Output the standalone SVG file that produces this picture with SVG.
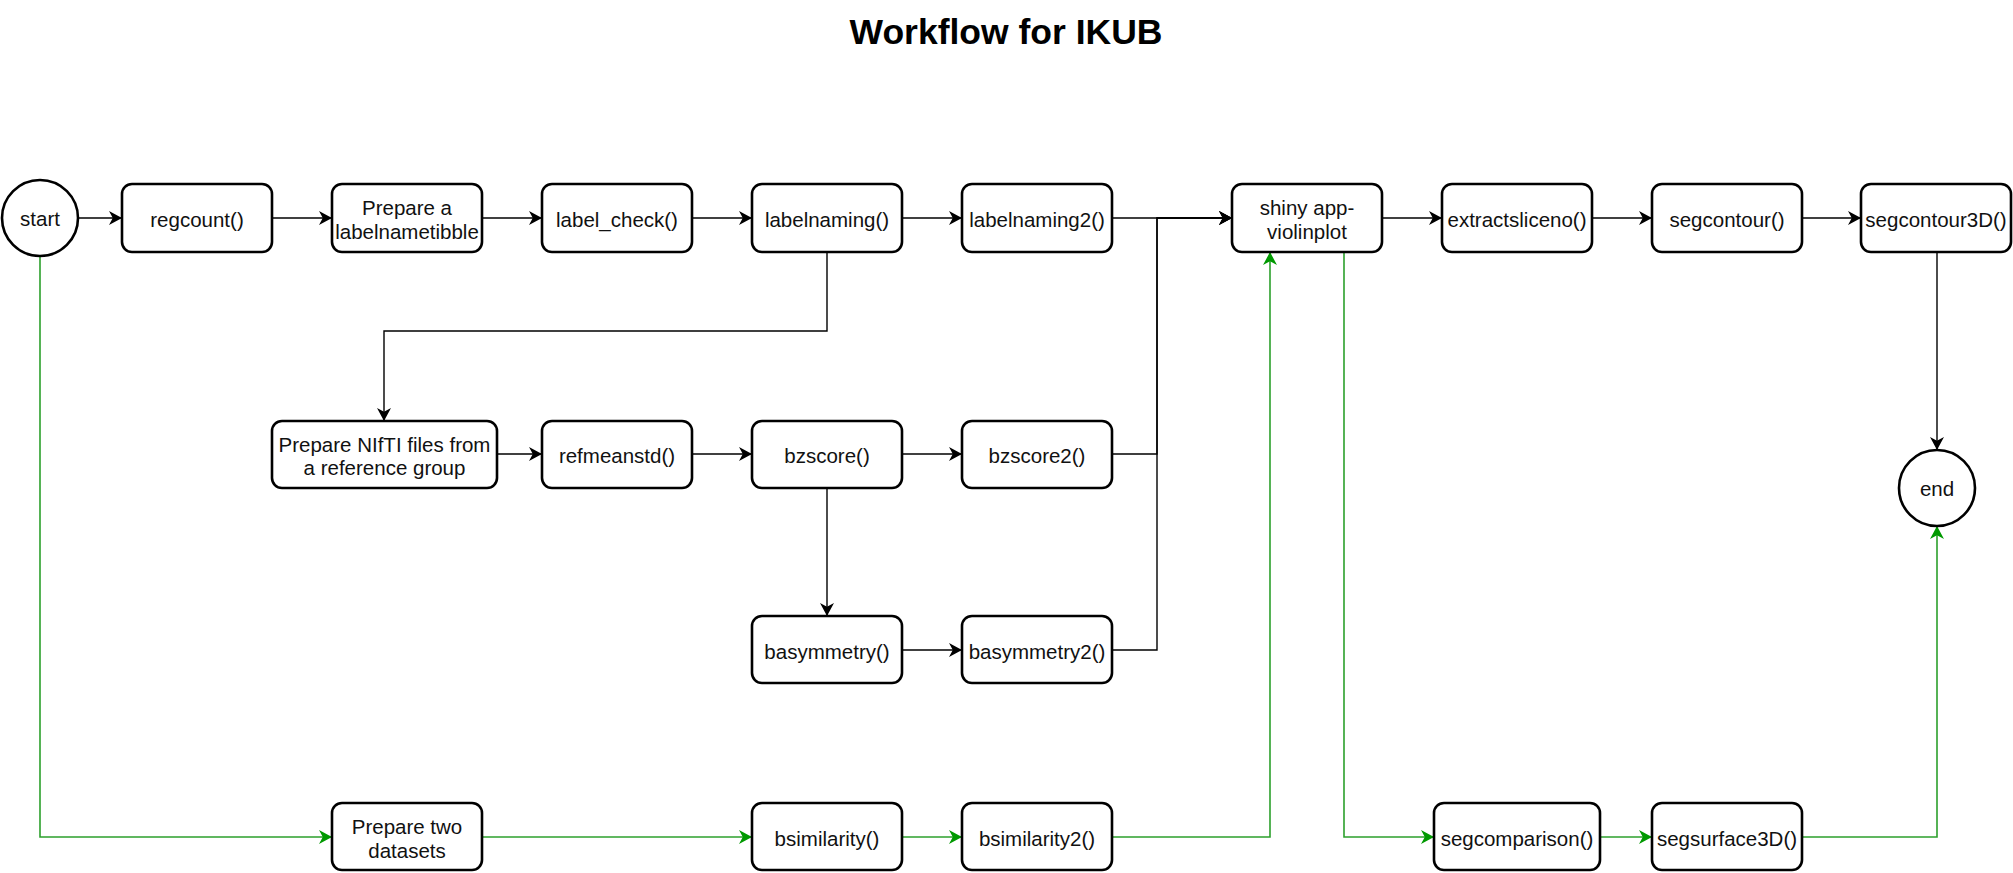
<svg xmlns="http://www.w3.org/2000/svg" width="2013" height="873" viewBox="0 0 2013 873">
<style>
  .box { fill: #ffffff; stroke: #000000; stroke-width: 2.6; }
  .lbl { font-family: "Liberation Sans", Arial, sans-serif; font-size: 20.5px; fill: #111111; text-anchor: middle; }
  .title { font-family: "Liberation Sans", Arial, sans-serif; font-size: 35.5px; font-weight: bold; fill: #000000; text-anchor: middle; }
  .edge { fill: none; stroke: #000000; stroke-width: 1.4; }
  .gedge { fill: none; stroke: #2ca02c; stroke-width: 1.6; }
</style>
<defs>
  <marker id="arr" markerUnits="userSpaceOnUse" markerWidth="15" markerHeight="15" refX="13" refY="7" orient="auto">
    <path d="M0,0 L13,7 L0,14 L3.8,7 Z" fill="#000000"/>
  </marker>
  <marker id="garr" markerUnits="userSpaceOnUse" markerWidth="15" markerHeight="15" refX="13" refY="7" orient="auto">
    <path d="M0,0 L13,7 L0,14 L3.8,7 Z" fill="#009900"/>
  </marker>
</defs>
<rect width="2013" height="873" fill="#ffffff"/>
<text class="title" x="1006" y="44">Workflow for IKUB</text>

<g id="connectors">
  <path class="edge" marker-end="url(#arr)" d="M78,218 H122"/>
  <path class="edge" marker-end="url(#arr)" d="M272,218 H332"/>
  <path class="edge" marker-end="url(#arr)" d="M482,218 H542"/>
  <path class="edge" marker-end="url(#arr)" d="M692,218 H752"/>
  <path class="edge" marker-end="url(#arr)" d="M902,218 H962"/>
  <path class="edge" marker-end="url(#arr)" d="M1112,218 H1232"/>
  <path class="edge" marker-end="url(#arr)" d="M1112,454 H1157 V218 H1232"/>
  <path class="edge" marker-end="url(#arr)" d="M1112,650 H1157 V218 H1232"/>
  <path class="edge" marker-end="url(#arr)" d="M1382,218 H1442"/>
  <path class="edge" marker-end="url(#arr)" d="M1592,218 H1652"/>
  <path class="edge" marker-end="url(#arr)" d="M1802,218 H1861"/>
  <path class="edge" marker-end="url(#arr)" d="M1937,252 V450"/>
  <path class="edge" marker-end="url(#arr)" d="M827,252 V331 H384 V421"/>
  <path class="edge" marker-end="url(#arr)" d="M497,454 H542"/>
  <path class="edge" marker-end="url(#arr)" d="M692,454 H752"/>
  <path class="edge" marker-end="url(#arr)" d="M902,454 H962"/>
  <path class="edge" marker-end="url(#arr)" d="M827,488 V616"/>
  <path class="edge" marker-end="url(#arr)" d="M902,650 H962"/>
  <path class="gedge" marker-end="url(#garr)" d="M40,256 V837 H332"/>
  <path class="gedge" marker-end="url(#garr)" d="M482,837 H752"/>
  <path class="gedge" marker-end="url(#garr)" d="M902,837 H962"/>
  <path class="gedge" marker-end="url(#garr)" d="M1112,837 H1270 V252"/>
  <path class="gedge" marker-end="url(#garr)" d="M1344,252 V837 H1434"/>
  <path class="gedge" marker-end="url(#garr)" d="M1600,837 H1652"/>
  <path class="gedge" marker-end="url(#garr)" d="M1802,837 H1937 V526"/>
</g>

<g id="start"><circle class="box" cx="40" cy="218" r="38"/><text class="lbl" x="40" y="226">start</text></g>
<g id="end"><circle class="box" cx="1937" cy="488" r="38"/><text class="lbl" x="1937" y="496">end</text></g>

<g id="regcount"><rect class="box" x="122" y="184" width="150" height="68" rx="10"/><text class="lbl" x="197" y="226.5">regcount()</text></g>
<g id="prep-tibble"><rect class="box" x="332" y="184" width="150" height="68" rx="10"/><text class="lbl" x="407" y="215">Prepare a</text><text class="lbl" x="407" y="238.5">labelnametibble</text></g>
<g id="label-check"><rect class="box" x="542" y="184" width="150" height="68" rx="10"/><text class="lbl" x="617" y="226.5">label_check()</text></g>
<g id="labelnaming"><rect class="box" x="752" y="184" width="150" height="68" rx="10"/><text class="lbl" x="827" y="226.5">labelnaming()</text></g>
<g id="labelnaming2"><rect class="box" x="962" y="184" width="150" height="68" rx="10"/><text class="lbl" x="1037" y="226.5">labelnaming2()</text></g>
<g id="shiny"><rect class="box" x="1232" y="184" width="150" height="68" rx="10"/><text class="lbl" x="1307" y="215">shiny app-</text><text class="lbl" x="1307" y="238.5">violinplot</text></g>
<g id="extractsliceno"><rect class="box" x="1442" y="184" width="150" height="68" rx="10"/><text class="lbl" x="1517" y="226.5">extractsliceno()</text></g>
<g id="segcontour"><rect class="box" x="1652" y="184" width="150" height="68" rx="10"/><text class="lbl" x="1727" y="226.5">segcontour()</text></g>
<g id="segcontour3D"><rect class="box" x="1861" y="184" width="150" height="68" rx="10"/><text class="lbl" x="1936" y="226.5">segcontour3D()</text></g>

<g id="prep-nifti"><rect class="box" x="272" y="421" width="225" height="67" rx="10"/><text class="lbl" x="384.5" y="451.5">Prepare NIfTI files from</text><text class="lbl" x="384.5" y="475">a reference group</text></g>
<g id="refmeanstd"><rect class="box" x="542" y="421" width="150" height="67" rx="10"/><text class="lbl" x="617" y="463">refmeanstd()</text></g>
<g id="bzscore"><rect class="box" x="752" y="421" width="150" height="67" rx="10"/><text class="lbl" x="827" y="463">bzscore()</text></g>
<g id="bzscore2"><rect class="box" x="962" y="421" width="150" height="67" rx="10"/><text class="lbl" x="1037" y="463">bzscore2()</text></g>

<g id="basymmetry"><rect class="box" x="752" y="616" width="150" height="67" rx="10"/><text class="lbl" x="827" y="658.5">basymmetry()</text></g>
<g id="basymmetry2"><rect class="box" x="962" y="616" width="150" height="67" rx="10"/><text class="lbl" x="1037" y="658.5">basymmetry2()</text></g>

<g id="prep-two"><rect class="box" x="332" y="803" width="150" height="67" rx="10"/><text class="lbl" x="407" y="834">Prepare two</text><text class="lbl" x="407" y="857.5">datasets</text></g>
<g id="bsimilarity"><rect class="box" x="752" y="803" width="150" height="67" rx="10"/><text class="lbl" x="827" y="845.5">bsimilarity()</text></g>
<g id="bsimilarity2"><rect class="box" x="962" y="803" width="150" height="67" rx="10"/><text class="lbl" x="1037" y="845.5">bsimilarity2()</text></g>
<g id="segcomparison"><rect class="box" x="1434" y="803" width="166" height="67" rx="10"/><text class="lbl" x="1517" y="845.5">segcomparison()</text></g>
<g id="segsurface3D"><rect class="box" x="1652" y="803" width="150" height="67" rx="10"/><text class="lbl" x="1727" y="845.5">segsurface3D()</text></g>
</svg>
